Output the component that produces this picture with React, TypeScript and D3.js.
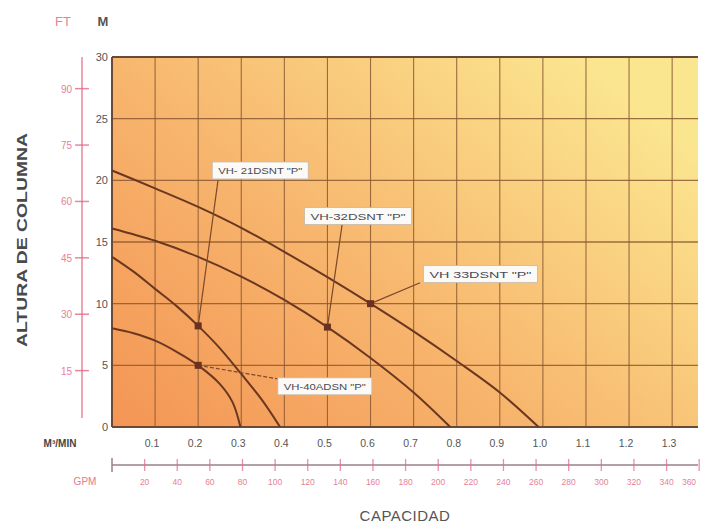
import React from 'react';
import * as d3 from 'd3';

// curvas de bombas: caudal (m3/min) vs altura (m)
const curveVH33 = [[0, 20.8], [0.1, 19.35], [0.2, 17.85], [0.3, 16.15], [0.4, 14.2], [0.5, 12.15], [0.6, 10.0], [0.7, 7.75], [0.8, 5.35], [0.9, 2.8], [0.99, 0]];
const curveVH32 = [[0, 16.1], [0.1, 15.1], [0.2, 13.8], [0.3, 12.2], [0.4, 10.3], [0.5, 8.1], [0.6, 5.6], [0.7, 2.8], [0.785, 0]];
const curveVH21 = [[0, 13.8], [0.05, 12.6], [0.1, 11.2], [0.15, 9.8], [0.2, 8.2], [0.25, 6.4], [0.3, 4.3], [0.35, 2.1], [0.39, 0]];
const curveVH40 = [[0, 8.0], [0.05, 7.6], [0.1, 7.0], [0.15, 6.1], [0.2, 5.0], [0.25, 3.5], [0.28, 2.0], [0.298, 0]];
const curves = [curveVH33, curveVH32, curveVH21, curveVH40];

// puntos marcados y etiquetas
const markers = [[0.6, 10.0], [0.5, 8.1], [0.2, 8.2], [0.2, 5.0]];
const labelNames = ['VH 33DSNT  "P"', 'VH-32DSNT  "P"', 'VH- 21DSNT "P"', 'VH-40ADSN "P"'];
const labelAt = [[0.855, 12.4], [0.571, 17.1], [0.344, 20.8], [0.494, 3.3]]; // centro de la etiqueta
const labelWidth = [114, 107, 96, 94];
const leaderFrom = [[0.715, 11.7], [0.534, 16.4], [0.246, 20.0], [0.385, 3.9]];

const meterTicks = [0, 5, 10, 15, 20, 25, 30];
const feetTicks = [15, 30, 45, 60, 75, 90];
const flowTicks = [0.1, 0.2, 0.3, 0.4, 0.5, 0.6, 0.7, 0.8, 0.9, 1.0, 1.1, 1.2, 1.3];
const gpmTicks = [20, 40, 60, 80, 100, 120, 140, 160, 180, 200, 220, 240, 260, 280, 300, 320, 340, 360];

const W = 703;
const H = 529;

const App = () => {
  const x = d3.scaleLinear().domain([0, 1.36]).range([112, 698]);
  const y = d3.scaleLinear().domain([0, 30]).range([427, 57]);
  const yFt = d3.scaleLinear().domain([0, 30 * 3.2808]).range([427, 57]);
  const xGpm = (g: number) => x(g * 0.0037854);

  const line = d3.line<number[]>()
    .x(d => x(d[0]))
    .y(d => y(d[1]))
    .curve(d3.curveCatmullRom.alpha(0.5));

  const pink = '#e46a86';
  const grid = '#8c5a32';
  const font = '"Liberation Sans", Arial, sans-serif';
  const [x0, x1] = x.range();
  const [yb, yt] = y.range();

  return (
    <svg width={W} height={H} style={{ position: 'absolute', left: 0, top: 0, background: '#fff' }} fontFamily={font}>
      <defs>
        <linearGradient id="bg" x1="0" y1="1" x2="1" y2="0.25">
          <stop offset="0" stopColor="#f49555" />
          <stop offset="0.45" stopColor="#f7b46c" />
          <stop offset="1" stopColor="#fbe690" />
        </linearGradient>
      </defs>

      <rect x={x0} y={yt} width={x1 - x0} height={yb - yt} fill="url(#bg)" />

      {/* rejilla */}
      {flowTicks.map(t => (
        <line key={'v' + t} x1={x(t)} x2={x(t)} y1={yt} y2={yb} stroke={grid} strokeWidth={1.1} opacity={0.85} />
      ))}
      {meterTicks.filter(t => t > 0 && t < 30).map(t => (
        <line key={'h' + t} x1={x0} x2={x1} y1={y(t)} y2={y(t)} stroke={grid} strokeWidth={1.3} opacity={0.85} />
      ))}

      {/* borde */}
      <line x1={x0} x2={x1} y1={yt} y2={yt} stroke="#6a4a34" strokeWidth={2} />
      <line x1={x0} x2={x0} y1={yt} y2={yb} stroke="#6a4a34" strokeWidth={2} />
      <line x1={x0} x2={x1} y1={yb} y2={yb} stroke="#6a4a34" strokeWidth={2} />

      {/* curvas */}
      {curves.map((c, i) => (
        <path key={'c' + i} d={line(c) || ''} fill="none" stroke="#6a3820" strokeWidth={2} />
      ))}

      {/* líneas guía y etiquetas */}
      {markers.map((m, i) => (
        <line key={'l' + i} x1={x(m[0])} y1={y(m[1])} x2={x(leaderFrom[i][0])} y2={y(leaderFrom[i][1])}
          stroke="#7a4a2a" strokeWidth={1.2} strokeDasharray={i === 3 ? '4 2' : undefined} />
      ))}
      {markers.map((m, i) => (
        <rect key={'m' + i} x={x(m[0]) - 3.5} y={y(m[1]) - 3.5} width={7} height={7} fill="#6a3020" />
      ))}
      {labelNames.map((name, i) => {
        const cx = x(labelAt[i][0]);
        const cy = y(labelAt[i][1]);
        const w = labelWidth[i];
        return (
          <g key={'t' + i}>
            <rect x={cx - w / 2} y={cy - 8.5} width={w} height={17} fill="#fbfaf6" stroke="#c8b8a8" strokeWidth={0.8} />
            <text x={cx} y={cy + 3.5} textAnchor="middle" fontSize={9.5} fill="#4a4a58" textLength={w - 12} lengthAdjust="spacingAndGlyphs">{name}</text>
          </g>
        );
      })}

      {/* eje M */}
      {meterTicks.map(t => (
        <text key={'mt' + t} x={108} y={y(t) + 4} textAnchor="end" fontSize={11} fill="#555">{t}</text>
      ))}
      <text x={103} y={26} textAnchor="middle" fontSize={13} fontWeight="bold" fill="#555">M</text>

      {/* eje FT */}
      <line x1={82} x2={82} y1={yt} y2={418} stroke={pink} strokeWidth={1.5} opacity={0.8} />
      {feetTicks.map(t => (
        <g key={'ft' + t}>
          <line x1={75} x2={89} y1={yFt(t)} y2={yFt(t)} stroke={pink} strokeWidth={1.5} opacity={0.8} />
          <text x={72} y={yFt(t) + 4} textAnchor="end" fontSize={10} fill={pink} opacity={0.85}>{t}</text>
        </g>
      ))}
      <text x={63} y={26} textAnchor="middle" fontSize={13} fill={pink} opacity={0.85}>FT</text>

      <text transform="translate(27,240) rotate(-90)" textAnchor="middle" fontSize={14} fontWeight="bold" fill="#4a4a4a" textLength={214} lengthAdjust="spacingAndGlyphs">ALTURA DE COLUMNA</text>

      {/* eje m3/min */}
      {flowTicks.map(t => (
        <text key={'fl' + t} x={x(t) - 3} y={447} textAnchor="middle" fontSize={10.5} fill="#555">{t.toFixed(1)}</text>
      ))}
      <text x={60} y={447} textAnchor="middle" fontSize={10} fontWeight="bold" fill="#444">M³/MIN</text>

      {/* eje GPM */}
      <line x1={x0} x2={x1} y1={465} y2={465} stroke="#9a8088" strokeWidth={1.5} />
      <line x1={x0} x2={x0} y1={458} y2={472} stroke="#9a8088" strokeWidth={1.5} />
      {gpmTicks.map(g => (
        <g key={'g' + g}>
          <line x1={xGpm(g)} x2={xGpm(g)} y1={459} y2={471} stroke={pink} strokeWidth={1.3} opacity={0.75} />
          <text x={Math.min(xGpm(g), 689)} y={485} textAnchor="middle" fontSize={8.5} fill={pink} opacity={0.85}>{g}</text>
        </g>
      ))}
      <text x={85} y={485} textAnchor="middle" fontSize={10} fill={pink} opacity={0.9}>GPM</text>

      <text x={405} y={521} textAnchor="middle" fontSize={15} fill="#555" letterSpacing={0.5}>CAPACIDAD</text>
    </svg>
  );
};

export default App;
